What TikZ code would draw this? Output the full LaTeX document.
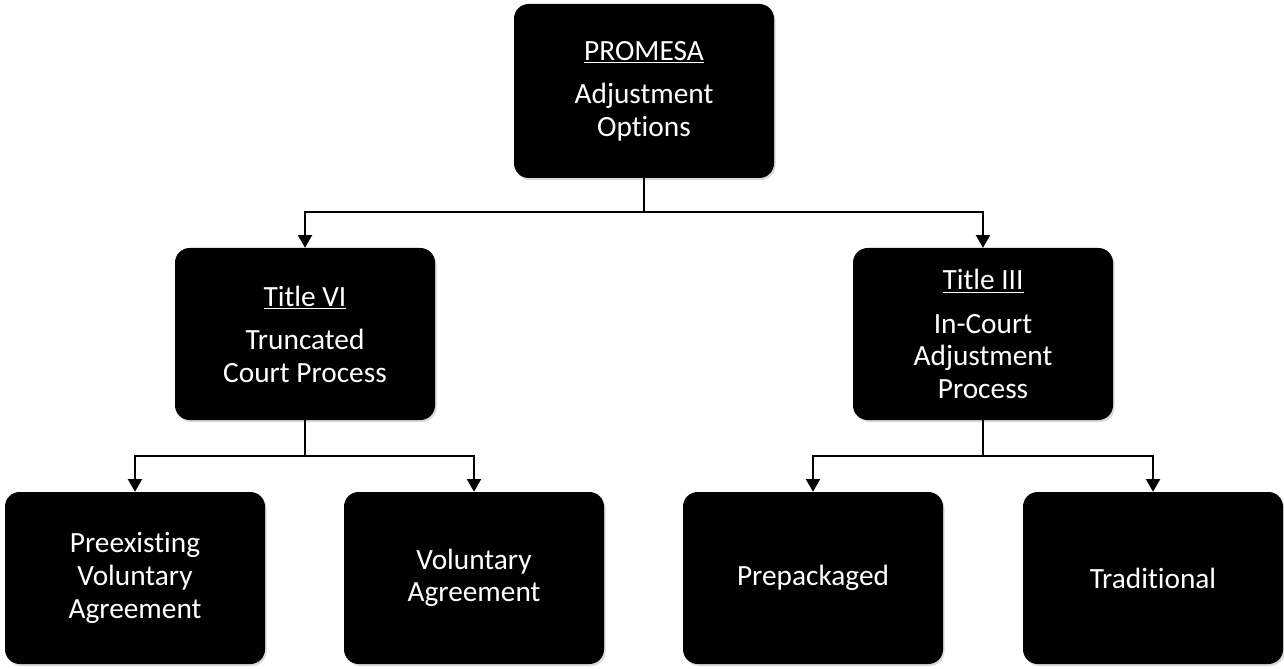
\documentclass[tikz,border=0pt]{standalone}
\usepackage{fontspec}
\setmainfont[Ligatures=NoCommon]{Carlito}
\usetikzlibrary{arrows.meta,shadows}

\tikzset{
  box/.style={fill=black, rounded corners=11pt, text=white, align=center,
    minimum width=195pt, minimum height=129pt, inner sep=0pt,
    font=\fontsize{22}{24.5}\selectfont,
    drop shadow={opacity=0.3, shadow xshift=1.2pt, shadow yshift=-1.5pt}},
  link/.style={line width=1.5pt, -{Triangle[width=10.5pt,length=9.5pt]}}
}

\begin{document}
\begin{tikzpicture}[x=0.75pt,y=0.75pt]
\useasboundingbox (0,0) rectangle (1284,668);

\node[box, minimum height=130.5pt] (promesa) at (644,577) {\underline{PROMESA}\\[8pt]Adjustment\\Options};

\node[box] (titlevi) at (305,334) {\underline{Title VI}\\[8pt]Truncated\\Court Process};
\node[box] (titleiii) at (983,334) {\underline{Title III}\\[8pt]In-Court\\Adjustment\\Process};

\node[box] (preexist) at (135,90) {Preexisting\\Voluntary\\Agreement};
\node[box] (voluntary) at (474,90) {Voluntary\\Agreement};
\node[box] (prepack) at (813,90) {Prepackaged};
\node[box] (traditional) at (1153,90) {Traditional};

\draw[link] (promesa.south) -- ++(0,-34) -| (titlevi.north);
\draw[link] (promesa.south) -- ++(0,-34) -| (titleiii.north);

\draw[link] (titlevi.south) -- ++(0,-36) -| (preexist.north);
\draw[link] (titlevi.south) -- ++(0,-36) -| (voluntary.north);

\draw[link] (titleiii.south) -- ++(0,-36) -| (prepack.north);
\draw[link] (titleiii.south) -- ++(0,-36) -| (traditional.north);
\end{tikzpicture}
\end{document}
